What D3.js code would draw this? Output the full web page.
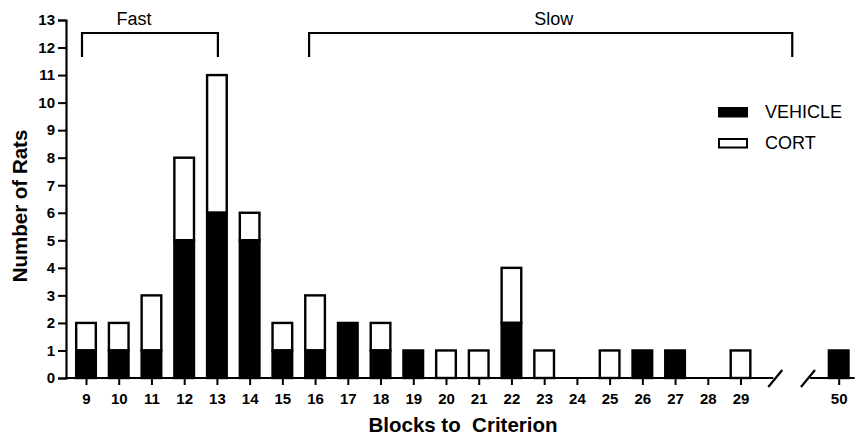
<!DOCTYPE html>
<html>
<head>
<meta charset="utf-8">
<script src="https://cdn.jsdelivr.net/npm/d3@7"></script>
<style>
  body { margin: 0; background: #fff; }
  svg { display: block; font-family: "Liberation Sans", Arial, Helvetica, sans-serif; }
  .axis line { stroke: #000; stroke-width: 2; }
  .axis-title { font-size: 20.5px; font-weight: bold; }
</style>
</head>
<body>
<div id="chart"></div>
<script>
// Blocks to criterion (x categories), "gap1"/"gap2" are the axis break slots
const blocks = ["9", "10", "11", "12", "13", "14", "15", "16", "17", "18", "19",
  "20", "21", "22", "23", "24", "25", "26", "27", "28", "29", "gap1", "gap2", "50"];
const vehicle = [1, 1, 1, 5, 6, 5, 1, 1, 2, 1, 1, 0, 0, 2, 0, 0, 0, 1, 1, 0, 0, 0, 0, 1];
const cort    = [1, 1, 2, 3, 5, 1, 1, 2, 0, 1, 0, 1, 1, 2, 1, 0, 1, 0, 0, 0, 1, 0, 0, 0];
const yTicks = d3.range(0, 14);
const groups = [
  { label: "Fast", from: "9", to: "13" },
  { label: "Slow", from: "16", to: "gap1" }
];
const legendItems = [
  { label: "VEHICLE", fill: "#000" },
  { label: "CORT", fill: "#fff" }
];

const width = 856, height = 436;
const svg = d3.select("#chart").append("svg")
  .attr("width", width)
  .attr("height", height);

const x = d3.scalePoint().domain(blocks).range([86, 838.7]);
const y = d3.scaleLinear().domain([0, 13]).range([378, 20]);
const barW = x.step() * 0.6;

const data = blocks.map((b, i) => ({ block: b, vehicle: vehicle[i], cort: cort[i] }));

// Bars: vehicle at bottom (black), cort stacked on top (white)
const bars = svg.append("g");
data.filter(d => d.cort > 0).forEach(d => {
  bars.append("rect")
    .attr("x", x(d.block) - barW / 2)
    .attr("y", y(d.vehicle + d.cort))
    .attr("width", barW)
    .attr("height", y(d.vehicle) - y(d.vehicle + d.cort))
    .attr("fill", "#fff")
    .attr("stroke", "#000")
    .attr("stroke-width", 2.4);
});
data.filter(d => d.vehicle > 0).forEach(d => {
  bars.append("rect")
    .attr("x", x(d.block) - barW / 2)
    .attr("y", y(d.vehicle))
    .attr("width", barW)
    .attr("height", y(0) - y(d.vehicle))
    .attr("fill", "#000")
    .attr("stroke", "#000")
    .attr("stroke-width", 2.4);
});

function styleAxis(g) {
  g.attr("font-family", null)
    .attr("font-size", 15)
    .attr("font-weight", "bold");
  g.selectAll("text").attr("fill", "#000");
}

// Y axis
const yAxis = svg.append("g")
  .attr("class", "axis")
  .attr("transform", "translate(66,0)")
  .call(d3.axisLeft(y).tickValues(yTicks).tickSize(8).tickPadding(3))
  .call(styleAxis);
yAxis.select(".domain").attr("stroke", "#000").attr("stroke-width", 2.2);

// X axis (domain replaced by broken line)
const xAxis = svg.append("g")
  .attr("class", "axis")
  .attr("transform", `translate(0,${y(0)})`)
  .call(d3.axisBottom(x).tickSize(7).tickPadding(8))
  .call(styleAxis);
xAxis.select(".domain").remove();
xAxis.selectAll(".tick").filter(d => d.startsWith("gap")).remove();
xAxis.selectAll("text").attr("dy", "0.71em");

const breakL = x("gap1") + 2, breakR = x("gap2") + 2;
svg.append("line")
  .attr("x1", 66).attr("x2", breakL - 2)
  .attr("y1", y(0)).attr("y2", y(0))
  .attr("stroke", "#000").attr("stroke-width", 2.2);
svg.append("line")
  .attr("x1", breakR + 2).attr("x2", x("50") + 16)
  .attr("y1", y(0)).attr("y2", y(0))
  .attr("stroke", "#000").attr("stroke-width", 2.2);
[breakL, breakR].forEach(bx => {
  svg.append("line")
    .attr("x1", bx - 7).attr("y1", y(0) + 9)
    .attr("x2", bx + 7).attr("y2", y(0) - 8)
    .attr("stroke", "#000").attr("stroke-width", 2.2);
});

// Group brackets
groups.forEach(g => {
  const fast = g.label === "Fast";
  const x0 = x(g.from) - (fast ? 4 : 6);
  const x1 = fast ? x(g.to) + 1 : x(g.to) + 19;
  const top = 33, bottom = 57;
  svg.append("path")
    .attr("d", `M${x0},${bottom}V${top}H${x1}V${bottom}`)
    .attr("fill", "none")
    .attr("stroke", "#000")
    .attr("stroke-width", 2.2);
  svg.append("text")
    .attr("x", fast ? (x("10") + x("11")) / 2 - 1 : (x0 + x1) / 2 + 3)
    .attr("y", 25)
    .attr("text-anchor", "middle")
    .attr("font-size", 18)
    .text(g.label);
});

// Legend
const legend = svg.append("g").attr("transform", "translate(718,107)");
legendItems.forEach((d, i) => {
  legend.append("rect")
    .attr("x", 1).attr("y", i * 31 + 1)
    .attr("width", 28).attr("height", 8.5)
    .attr("fill", d.fill)
    .attr("stroke", "#000")
    .attr("stroke-width", 2);
  legend.append("text")
    .attr("x", 47).attr("y", i * 31 + 11)
    .attr("font-size", 18)
    .text(d.label);
});

// Axis titles
svg.append("text")
  .attr("class", "axis-title")
  .attr("x", 463).attr("y", 432)
  .attr("text-anchor", "middle")
  .attr("xml:space", "preserve")
  .style("white-space", "pre")
  .text("Blocks to  Criterion");

svg.append("text")
  .attr("class", "axis-title")
  .attr("transform", "translate(27,206) rotate(-90)")
  .attr("text-anchor", "middle")
  .text("Number of Rats");
</script>
</body>
</html>
